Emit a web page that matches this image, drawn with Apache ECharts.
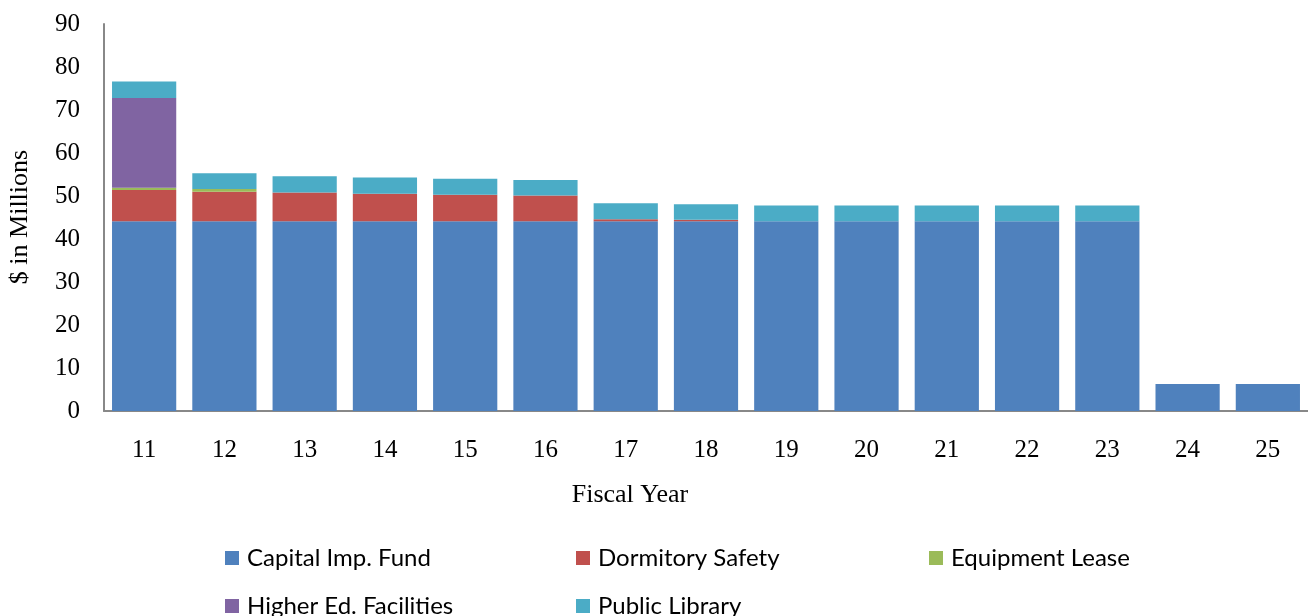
<!DOCTYPE html>
<html><head><meta charset="utf-8">
<script src="https://cdn.jsdelivr.net/npm/echarts@6/dist/echarts.min.js"></script>
<style>html,body{margin:0;padding:0;background:#fff}#c{width:1308px;height:616px}</style>
</head><body><div id="c"></div>
<script>
const years = ['11','12','13','14','15','16','17','18','19','20','21','22','23','24','25'];
const capitalImp = [44.1,44.1,44.1,44.1,44.1,44.1,44.1,44.1,44.1,44.1,44.1,44.1,44.1,6.3,6.3];
const dormitory = [7.3,6.9,6.7,6.4,6.2,6.0,0.5,0.4,0,0,0,0,0,0,0];
const equipment = [0.5,0.6,0,0,0,0,0,0,0,0,0,0,0,0,0];
const higherEd = [20.9,0,0,0,0,0,0,0,0,0,0,0,0,0,0];
const library = [3.8,3.7,3.8,3.8,3.7,3.6,3.7,3.6,3.7,3.7,3.7,3.7,3.7,0,0];
const yTicks = [0,10,20,30,40,50,60,70,80,90];

const names = ['Capital Imp. Fund','Dormitory Safety','Equipment Lease','Higher Ed. Facilities','Public Library'];
const colors = ['#4F81BD','#C0504D','#9BBB59','#8064A2','#4BACC6'];
const datas = [capitalImp, dormitory, equipment, higherEd, library];
const legendPos = [[225,546],[576,546],[929,546],[225,594],[576,594]];
const serif = 'Liberation Serif, Times New Roman, serif';

const chart = echarts.init(document.getElementById('c'));
chart.setOption({
  animation:false,
  color: colors,
  grid:{left:104,right:0,top:24,bottom:205,containLabel:false},
  legend: names.map((n,i)=>({
    data:[n], left:legendPos[i][0], top:legendPos[i][1], padding:0, itemWidth:14, itemHeight:14, itemGap:6,
    icon:'rect', textStyle:{fontFamily:'Lato, sans-serif', fontSize:24, color:'#000', padding:[0,0,0,3]}
  })),
  graphic:[
    {type:'text', x:630, y:495, style:{text:'Fiscal Year', font:'26px '+serif, fill:'#000', textAlign:'center', textVerticalAlign:'middle'}},
    {type:'text', x:20, y:217, rotation:Math.PI/2, style:{text:'$ in Millions', font:'26px '+serif, fill:'#000', textAlign:'center', textVerticalAlign:'middle'}}
  ],
  xAxis:{type:'category', data:years,
    axisLine:{lineStyle:{color:'#888', width:2}}, axisTick:{show:false},
    axisLabel:{fontFamily:serif, fontSize:25, color:'#000', margin:27}},
  yAxis:{type:'value', min:yTicks[0], max:yTicks[yTicks.length-1], interval:10,
    axisLine:{show:true, lineStyle:{color:'#888', width:2}}, axisTick:{show:false}, splitLine:{show:false},
    axisLabel:{fontFamily:serif, fontSize:25, color:'#000', margin:24}},
  series: names.map((n,i)=>({
    name:n, type:'bar', stack:'total', data:datas[i], barCategoryGap:'20%',
    itemStyle:{color:colors[i]}
  }))
});
</script></body></html>
